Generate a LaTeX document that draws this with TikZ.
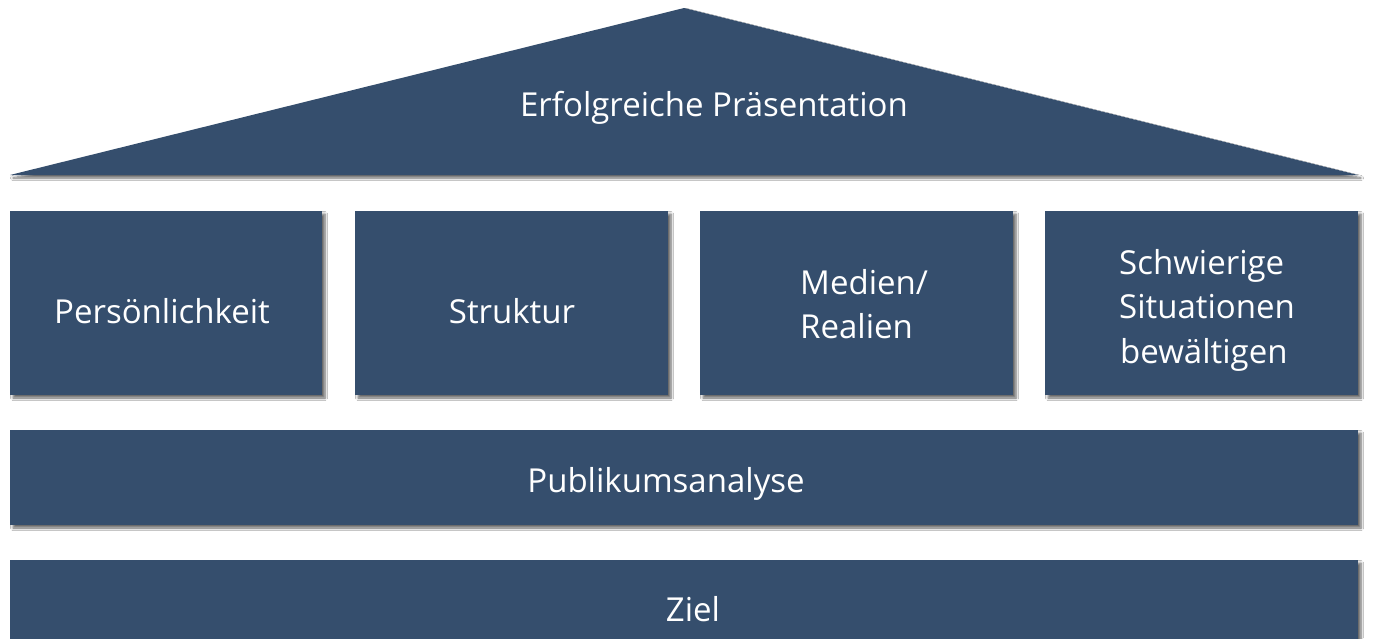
\documentclass[tikz,border=0pt]{standalone}
\usepackage{fontspec}
\setmainfont{Open Sans}
\usetikzlibrary{shadows.blur}
\definecolor{navy}{HTML}{354E6D}
\begin{document}
\begin{tikzpicture}[x=1pt,y=-1pt,
  blk/.style={fill=navy,draw=none,blur shadow={shadow xshift=3pt,shadow yshift=-3pt,shadow blur steps=6,shadow opacity=60,shadow blur radius=2.5pt}},
  txt/.style={text=white,font=\fontsize{33}{44}\selectfont,inner sep=0pt}]
\useasboundingbox (0,0) rectangle (1375,638);
\fill[white] (0,0) rectangle (1375,638);
\path[blk] (10,175) -- (684,8) -- (1358,175) -- cycle;
\path[blk] (10,211) rectangle (322,395);
\path[blk] (355,211) rectangle (668,395);
\path[blk] (700,211) rectangle (1013,395);
\path[blk] (1045,211) rectangle (1358,395);
\path[blk] (10,430) rectangle (1358,525);
\path[blk] (10,560) rectangle (1358,660);
\node[txt,anchor=base] (roof) at (714,116) {Erfolgreiche Präsentation};
\node[txt,anchor=base] (p1) at (162,323) {Persönlichkeit};
\node[txt,anchor=base] (p2) at (512,323) {Struktur};
\node[txt,anchor=base west] (p3a) at (800,294) {Medien/};
\node[txt,anchor=base west] (p3b) at (800,338) {Realien};
\node[txt,anchor=base west] (p4a) at (1119,274) {Schwierige};
\node[txt,anchor=base west] (p4b) at (1119,318) {Situationen};
\node[txt,anchor=base west] (p4c) at (1120,363) {bewältigen};
\node[txt,anchor=base] (pub) at (666,492) {Publikumsanalyse};
\node[txt,anchor=base] (ziel) at (693,621) {Ziel};
\end{tikzpicture}
\end{document}
